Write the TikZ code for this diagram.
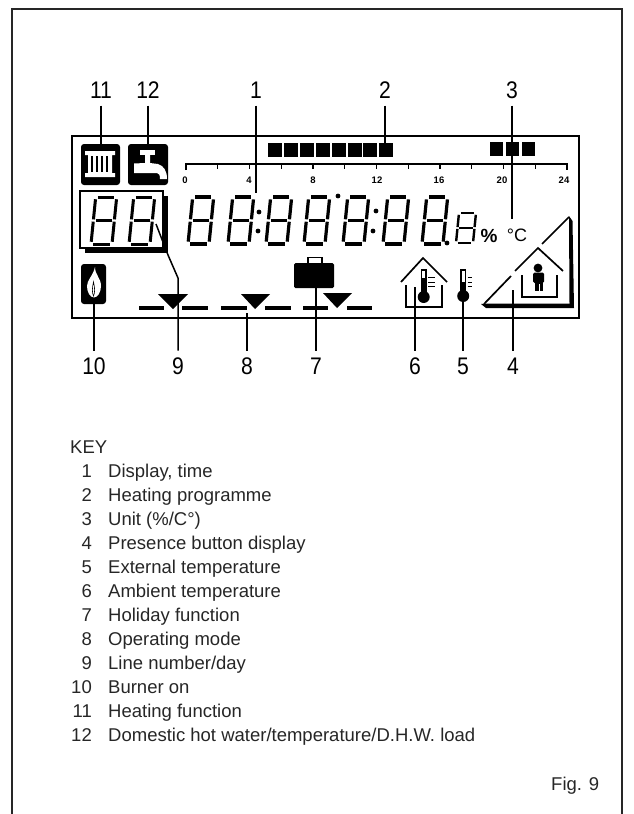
\documentclass[tikz,border=0pt]{standalone}
\usepackage{fontspec}
\setmainfont{Liberation Sans}
\newfontfamily\narrowf[FakeStretch=0.88]{Liberation Sans}
\newcommand\fsz[1]{\fontsize{#1}{#1}\selectfont}
% digit: x, y of bottom-left, width, height, stroke
\newcommand\lcddigit[5]{%
  \begin{scope}[shift={(#1,#2)},xslant=0.1,line width=#5pt]
    \pgfmathsetmacro\gp{#5*0.75}
    \pgfmathsetmacro\ww{#3}\pgfmathsetmacro\hh{#4}
    \draw (\gp,-\hh) -- (\ww-\gp,-\hh);
    \draw (\gp,-\hh/2) -- (\ww-\gp,-\hh/2);
    \draw (\gp,0) -- (\ww-\gp,0);
    \draw (0,-\hh+\gp) -- (0,-\hh/2-\gp*0.5);
    \draw (0,-\hh/2+\gp*0.5) -- (0,-\gp);
    \draw (\ww,-\hh+\gp) -- (\ww,-\hh/2-\gp*0.5);
    \draw (\ww,-\hh/2+\gp*0.5) -- (\ww,-\gp);
  \end{scope}}
\tikzset{
  lab/.style={font=\narrowf\fsz{24},inner sep=0pt,outer ysep=7pt,text height=17pt,text depth=0pt},
  lead/.style={line width=1.5pt},
  keytxt/.style={font=\fsz{18.5},inner sep=0pt,anchor=base west,text=black!85},
  keynum/.style={font=\fsz{18.5},inner sep=0pt,anchor=base east,text=black!85},
  hour/.style={font=\bfseries\fsz{9.5},inner sep=0pt},
  frame/.style={line width=1.9pt},
  iconline/.style={line width=1.7pt},
  dash part/.style={line width=4pt}
}
\begin{document}
\begin{tikzpicture}[x=1pt,y=-1pt,line cap=butt]
\useasboundingbox (0,0) rectangle (633,814);
\draw[line width=1.8pt,black!85] (12,814) -- (12,9) -- (622,9) -- (622,814);
\draw[frame] (72,136) rectangle (579,318);

% Radiator
\fill[rounded corners=3pt] (81,144) rectangle (120,185);
\fill[white] (85,151) -- (115,151) -- (115,155) -- (112,155) -- (112,173) -- (115,173) -- (115,177) -- (85,177) -- (85,173) -- (88,173) -- (88,155) -- (85,155) -- cycle;
\foreach \x in {92,97,102,107}{\draw[line width=1.8pt] (\x,156) -- (\x,172);}
% Tap
\fill[rounded corners=3pt] (128,144) rectangle (168,185);
\fill[white] (140,150) rectangle (155,154.5);
\fill[white] (145,154) -- (150,154) -- (150,163) -- (158,164) .. controls (164,166) and (167,171) .. (167,179) -- (160,179) .. controls (160,175) and (159,173) .. (157,173) -- (134,173) -- (134,163.5) -- (145,163) -- cycle;
% Flame
\fill[rounded corners=3pt] (81,264) rectangle (106,304);
\fill[white] (95,267) .. controls (95,275) and (101,278) .. (101,286) .. controls (101,293) and (97,297.5) .. (94,297.5) .. controls (90,297.5) and (87,292) .. (87,286) .. controls (87,280) and (93,276) .. (95,267) -- cycle;
\draw[line width=.6pt] (93.5,282) .. controls (92,288) and (92,293) .. (93.5,296) .. controls (95,293) and (95,288) .. (93.5,282) -- cycle;

% Programme squares
\foreach \x in {268,284,300,316,332,348,363,379}{\fill (\x,143) rectangle +(13.5,14);}
\foreach \x in {490,506,522}{\fill (\x,142) rectangle +(13,14);}
% Time axis
\draw[line width=1.4pt] (186,170) -- (186,164) -- (567,164) -- (567,170);
\foreach \i in {1,...,11}{\draw[line width=1.4pt] (186+31.75*\i,164) -- (186+31.75*\i,169);}
\node[hour] (h0) at (185,180) {0};
\node[hour] (h4) at (249,180) {4};
\node[hour] (h8) at (313,180) {8};
\node[hour] (h12) at (377,180) {12};
\node[hour] (h16) at (439,180) {16};
\node[hour] (h20) at (502,180) {20};
\node[hour] (h24) at (564,180) {24};

% Number box
\fill (85,196) rectangle (168,253);
\draw[line width=1.4pt,fill=white] (80,191) rectangle (163,248);
\lcddigit{91}{244}{21}{47}{3}
\lcddigit{129}{244}{21}{47}{3}
% Main digits
\foreach \x in {188,228,266,304,343,383,422}{\lcddigit{\x}{244}{21}{47}{3.2}}
\lcddigit{456}{243}{17}{30}{2.4}
\foreach \p in {(259,212),(258,231),(376,211),(373,231),(338,196),(447,243)}{\fill \p circle (2.4);}
\node[font=\bfseries\fsz{19},inner sep=0pt] (pct) at (489,236) {\%};
\node[font=\fsz{18},inner sep=0pt] (unit) at (517,235) {°C};

% Mode bars
\draw[dash part] (139,308) -- (164,308) (182,308) -- (208,308);
\draw[dash part] (221,308) -- (247,308) (265,308) -- (291,308);
\draw[dash part] (303,308) -- (328,308) (347,308) -- (372,308);
\fill (158,294) -- (188,294) -- (173,309) -- cycle;
\fill (241,294) -- (270,294) -- (255,309) -- cycle;
\fill (323,293) -- (352,293) -- (337,308) -- cycle;
% Briefcase
\fill[rounded corners=1.5pt] (294,263) rectangle (334,288);
\draw[iconline] (308,264) -- (308,257.5) -- (322,257.5) -- (322,264);

% House with thermometer
\draw[iconline] (401,282) -- (423,258) -- (447,282);
\draw[iconline] (406,285) -- (406,307) -- (442,307) -- (442,285);
\draw[line width=1.1pt] (421.5,292) -- (421.5,270) -- (426,270) -- (426,292);
\fill (423.7,297) circle (6);
\fill (422,278) rectangle (425.5,292);
\foreach \y in {277,282,286}{\draw[line width=1pt] (428,\y) -- (435,\y);}
% External thermometer
\draw[line width=1.1pt] (461,291) -- (461,270) -- (465.5,270) -- (465.5,291);
\fill (463.2,296) circle (6);
\fill (461,282) rectangle (465.5,292);
\foreach \y in {277,282,286}{\draw[line width=1pt] (467.5,\y) -- (472,\y);}

% Presence triangle
\fill (569,216) -- (572.5,221) -- (574,308) -- (486,308) -- (481,304) -- (487,303.5) -- (569.5,303.5) -- cycle;
\draw[iconline] (484,304) -- (511,276);
\draw[iconline] (542,244) -- (569,217);
\draw[iconline] (515,271) -- (538,248) -- (563,271);
\draw[iconline] (522,275) -- (522,297) -- (557,297) -- (557,275);
\fill (538,268) circle (4.4);
\fill[rounded corners=1.5pt] (533,272.5) rectangle (544,283);
\fill (535,281) rectangle (543,291);
\draw[white,line width=.6pt] (539,284) -- (539,291);

% Top labels and leaders
\coordinate (e11) at (101,145);
\coordinate (e12) at (148,144);
\coordinate (e1) at (256,193);
\coordinate (e2) at (385,143);
\coordinate (e3) at (512,219);
\node[lab] (l11) at (101,90) {11};
\node[lab] (l12) at (148,90) {12};
\node[lab] (l1) at (256,90) {1};
\node[lab] (l2) at (385,90) {2};
\node[lab] (l3) at (512,90) {3};
\draw[lead] (l11) -- (e11);
\draw[lead] (l12) -- (e12);
\draw[lead] (l1) -- (e1);
\draw[lead] (l2) -- (e2);
\draw[lead] (l3) -- (e3);
% Bottom labels and leaders
\coordinate (e10) at (94,304);
\coordinate (e9) at (156,224);
\coordinate (e9b) at (168,255);
\coordinate (e9c) at (178,278);
\coordinate (e8) at (247,313);
\coordinate (e7) at (316,288);
\coordinate (e6) at (415,287);
\coordinate (e5) at (463,296);
\coordinate (e4) at (513,290);
\node[lab] (l10) at (94,366) {10};
\node[lab] (l9) at (178,366) {9};
\node[lab] (l8) at (247,366) {8};
\node[lab] (l7) at (316,366) {7};
\node[lab] (l6) at (415,366) {6};
\node[lab] (l5) at (463,366) {5};
\node[lab] (l4) at (513,366) {4};
\draw[lead] (l10) -- (e10);
\draw[lead] (l9) -- (e9c) -- (e9b) -- (e9);
\draw[lead] (l8) -- (e8);
\draw[lead] (l7) -- (e7);
\draw[lead] (l6) -- (e6);
\draw[lead] (l5) -- (e5);
\draw[lead] (l4) -- (e4);

% Key
\node[keytxt] (key) at (70,453) {KEY};
\foreach \n/\t [count=\i from 0] in {1/{Display, time},2/{Heating programme},3/{Unit (\%/C°)},4/{Presence button display},5/{External temperature},6/{Ambient temperature},7/{Holiday function},8/{Operating mode},9/{Line number/day},10/{Burner on},11/{Heating function},12/{Domestic hot water/temperature/D.H.W. load}}{
  \node[keynum] (kn\n) at (92,477+24*\i) {\n};
  \node[keytxt] (kt\n) at (108,477+24*\i) {\t};
}
\node[keytxt] (fig) at (551,790) {Fig. 9};
\end{tikzpicture}
\end{document}
